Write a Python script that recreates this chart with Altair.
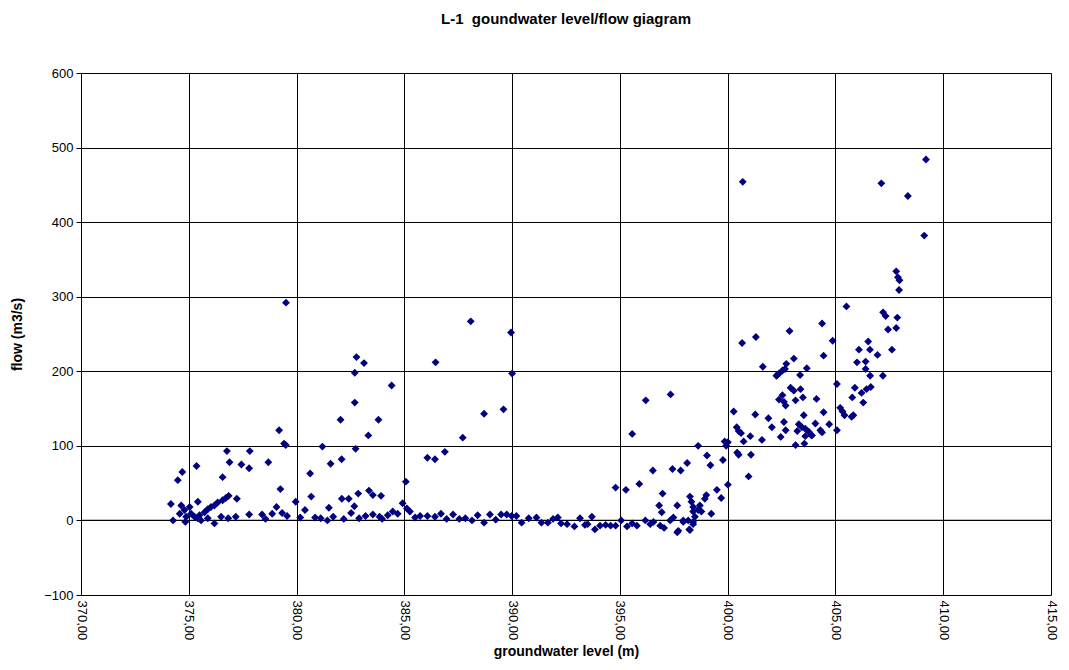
import altair as alt
import pandas as pd

level = [
    374.17, 374.27, 374.49, 374.70, 374.65, 374.58, 374.80, 374.84, 374.88, 375.04,
    375.11, 375.27, 375.36, 375.42, 375.42, 375.50, 375.57, 375.73, 375.88, 375.88,
    376.03, 376.19, 376.19, 376.34, 376.50, 376.57, 376.57, 376.72, 376.77, 376.83,
    376.85, 376.89, 377.18, 377.23, 377.44, 377.80, 377.80, 377.83, 378.40, 378.56,
    378.69, 378.87, 379.07, 379.19, 379.25, 379.33, 379.42, 379.50, 379.51, 379.56,
    379.96, 380.17, 380.39, 380.63, 380.68, 380.86, 381.12, 381.20, 381.43, 381.50,
    381.58, 381.70,
    382.04, 382.09, 382.10, 382.19, 382.42, 382.53, 382.68, 382.70, 382.70, 382.74,
    382.78, 382.86, 382.90, 383.13, 383.20, 383.33, 383.36, 383.54, 383.54, 383.80,
    383.85, 383.92, 383.97, 384.23, 384.41, 384.46, 384.69, 384.92, 385.07, 385.12,
    385.26, 385.50, 385.73, 386.07, 386.07, 386.42, 386.42, 386.45, 386.70, 386.88,
    386.96, 387.26, 387.55, 387.71, 387.83, 388.08, 388.14, 388.40, 388.70, 388.70,
    388.97, 389.24, 389.49, 389.60, 389.75, 389.95, 389.98, 390.00, 390.20, 390.44,
    390.77, 391.13, 391.36, 391.66, 391.90, 392.12, 392.27, 392.55, 392.89, 393.15,
    393.38, 393.50, 393.70, 393.84, 394.08, 394.34, 394.57, 394.80, 394.80, 395.06,
    395.28, 395.33, 395.57, 395.57, 395.79, 395.90, 396.18, 396.20, 396.41, 396.53,
    396.56, 396.82, 396.87, 396.94, 396.98, 397.05, 397.33, 397.35, 397.44, 397.48,
    397.66, 397.66, 397.71, 397.82, 397.94, 397.94, 398.12, 398.17, 398.22, 398.25,
    398.25, 398.32, 398.40, 398.40, 398.40, 398.40, 398.48, 398.63, 398.63, 398.71,
    398.78, 398.94, 399.01, 399.04, 399.20, 399.24, 399.50, 399.70, 399.78, 399.86,
    399.93, 400.01, 400.01,
    400.28, 400.42, 400.44, 400.51, 400.51, 400.62, 400.67, 400.70, 400.74, 400.97,
    401.05, 401.08, 401.28, 401.31, 401.59, 401.63, 401.89, 402.05, 402.26, 402.30,
    402.38, 402.38, 402.46, 402.54, 402.54, 402.61, 402.61, 402.66, 402.69, 402.69,
    402.72, 402.87, 402.92, 403.07, 403.07, 403.15, 403.15, 403.23, 403.30, 403.36,
    403.38, 403.45, 403.49, 403.53, 403.56, 403.60, 403.60, 403.67, 403.76, 403.89,
    403.91, 404.07, 404.12, 404.30, 404.38, 404.38, 404.45, 404.45, 404.71, 404.87,
    405.07, 405.07, 405.22, 405.33, 405.42, 405.51, 405.75, 405.78, 405.83, 405.90,
    406.00, 406.09, 406.21, 406.29, 406.40, 406.40, 406.44, 406.52, 406.60, 406.61,
    406.64, 406.95, 407.13, 407.20, 407.21, 407.33, 407.44, 407.62, 407.82, 407.82,
    407.87, 407.90, 407.95, 407.97, 408.36, 409.12, 409.20,
]

flow = [
    22, 0, 54, 65, 20, 9, 14, -2, 5, 18,
    9, 5, 73, 25, 3, 7, 0, 11, 15, 3,
    18, 20, -4, 24, 5, 27, 58, 30, 93, 3,
    33, 78, 5, 29, 75, 70, 8, 93, 8, 2,
    78, 9, 18, 121, 42, 10, 103, 101, 292, 6,
    25, 4, 14, 63, 32, 4, 3, 99, 0, 17,
    76, 5,
    135, 82, 29, 2, 29, 10, 19, 198, 158, 96,
    219, 36, 3, 211, 6, 114, 40, 34, 8, 135,
    5, 33, 2, 7, 181, 12, 9, 23, 52, 16,
    12, 4, 6, 6, 84, 82, 5, 212, 9, 92,
    2, 8, 2, 111, 3, 267, 0, 7, 143, -3,
    8, 1, 8, 149, 8, 252, 6, 197, 6, -3,
    3, 4, -3, -3, 2, 4, -4, -5, -8, 3,
    -6, -5, 5, -12, -7, -6, -7, -7, 44, 0,
    41, -8, -4, 116, -7, 49, 0, 161, -5, 67,
    -2, 20, -7, 11, 36, -10, 0, 169, 69, 4,
    20, -16, -14, 67, -2, 0, 77, 0, -12, 32,
    -13, 25, 18, 12, -2, -5, 5, 14, 100, 20,
    12, 29, 34, 87, 74, 9, 41, 30, 81, 106,
    100, 105, 48,
    146, 125, 91, 120, 88, 117, 238, 454, 106, 59,
    113, 88, 142, 246, 108, 206, 137, 125, 194, 195,
    197, 162, 112, 201, 168, 159, 132, 203, 154, 121,
    210, 254, 178, 217, 174, 161, 101, 120, 129, 195,
    176, 125, 165, 141, 103, 123, 113, 204, 119, 114,
    114, 130, 163, 121, 118, 264, 221, 145, 129, 241,
    183, 121, 151, 146, 141, 287, 139, 165, 141, 178,
    212, 229, 171, 158, 213, 203, 176, 240, 229, 194,
    179, 222, 452, 194, 279, 274, 256, 229, 258, 334,
    272, 326, 309, 322, 435, 382, 484,
]

x_ticks = [370, 375, 380, 385, 390, 395, 400, 405, 410, 415]
y_ticks = [-100, 0, 100, 200, 300, 400, 500, 600]

df = pd.DataFrame({"level": level, "flow": flow})
FONT = "Liberation Sans"

points = alt.Chart(df).mark_point(
    shape="diamond", filled=True, color="#000080", size=62, opacity=1
).encode(
    x=alt.X(
        "level:Q",
        scale=alt.Scale(domain=[370, 415], nice=False, zero=False),
        axis=alt.Axis(
            values=x_ticks,
            title="groundwater level (m)",
            labelAngle=90,
            labelExpr="replace(format(datum.value, '.2f'), '.', ',')",
            labelFont=FONT, labelFontSize=13, labelColor="black",
            labelPadding=5,
            ticks=False,
            domain=False,
            grid=True, gridColor="black", gridWidth=1, gridOpacity=1,
            titleFont=FONT, titleFontSize=14, titleFontWeight="bold",
            titleColor="black", titlePadding=5,
        ),
    ),
    y=alt.Y(
        "flow:Q",
        scale=alt.Scale(domain=[-100, 600], nice=False, zero=False),
        axis=alt.Axis(
            values=y_ticks,
            title="flow  (m3/s)",
            labelFont=FONT, labelFontSize=13, labelColor="black",
            labelPadding=3,
            ticks=True, tickColor="black", tickSize=5,
            domain=True, domainColor="black",
            grid=True, gridColor="black", gridWidth=1, gridOpacity=1,
            titleFont=FONT, titleFontSize=14, titleFontWeight="bold",
            titleColor="black", titlePadding=19,
        ),
    ),
)

zero_line = alt.Chart(pd.DataFrame({"z": [0]})).mark_rule(
    color="black", strokeWidth=1.3
).encode(y="z:Q")

chart = alt.layer(zero_line, points).properties(
    width=970,
    height=522,
    title=alt.TitleParams(
        "L-1\u00a0 goundwater level/flow giagram",
        font=FONT, fontSize=15, fontWeight="bold", color="black",
        anchor="middle", offset=40,
    ),
    autosize=alt.AutoSizeParams(type="none"),
    padding={"left": 73, "top": 65, "right": 10, "bottom": 66},
).configure_view(
    fill="#C0C0C0", stroke="#808080", strokeWidth=1
).configure(background="white")

chart.save("out.html", embed_options={"renderer": "svg", "actions": False})
